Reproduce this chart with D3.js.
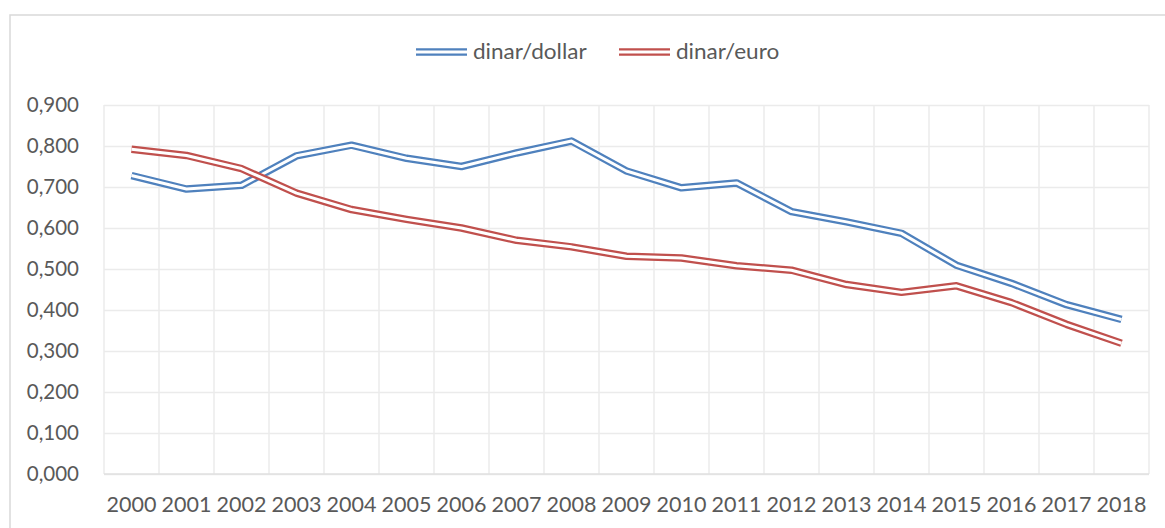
<!DOCTYPE html>
<html>
<head>
<meta charset="utf-8">
<script src="https://cdn.jsdelivr.net/npm/d3@7"></script>
<style>
  body { margin: 0; background: #fff; }
  svg text { font-family: Lato, "Open Sans", sans-serif; fill: #595959; }
</style>
</head>
<body>
<div id="chart"></div>
<script>
// values
var years = ["2000", "2001", "2002", "2003", "2004", "2005", "2006", "2007", "2008", "2009",
	"2010", "2011", "2012", "2013", "2014", "2015", "2016", "2017", "2018"];
var dinarDollar = [0.728, 0.695, 0.704, 0.776, 0.802, 0.770, 0.750, 0.783, 0.812, 0.739,
	0.698, 0.710, 0.640, 0.615, 0.587, 0.509, 0.465, 0.413, 0.377];
var dinarEuro = [0.792, 0.777, 0.745, 0.685, 0.645, 0.621, 0.600, 0.570, 0.554, 0.531,
	0.527, 0.508, 0.497, 0.462, 0.443, 0.459, 0.418, 0.365, 0.319];
var yTicks = [0, 0.1, 0.2, 0.3, 0.4, 0.5, 0.6, 0.7, 0.8, 0.9];

var series = [
	{ name: "dinar/dollar", values: dinarDollar, color: "#4F81BD" },
	{ name: "dinar/euro", values: dinarEuro, color: "#C0504D" }
];

var width = 1165, height = 528;
var m = { left: 104, right: 16, top: 105, bottom: 54 };
var fontSize = 20.5;

var svg = d3.select("#chart").append("svg")
	.attr("width", width)
	.attr("height", height);

// chart frame
svg.append("rect")
	.attr("x", 10).attr("y", 15)
	.attr("width", 1200).attr("height", 600)
	.attr("fill", "none")
	.attr("stroke", "#d9d9d9")
	.attr("stroke-width", 1.5);

var x = d3.scaleBand()
	.domain(years)
	.range([m.left, width - m.right]);

var y = d3.scaleLinear()
	.domain([0, 0.9])
	.range([height - m.bottom, m.top]);

var locale = d3.formatLocale({ decimal: ",", thousands: ".", grouping: [3], currency: ["", ""] });
var fmt = locale.format(".3f");

// horizontal gridlines
svg.append("g")
	.attr("transform", "translate(" + m.left + ",0)")
	.call(d3.axisLeft(y).tickValues(yTicks).tickSize(-(x.range()[1] - m.left)).tickFormat(""))
	.call(function(g) {
		g.select(".domain").remove();
		g.selectAll(".tick line").attr("stroke", "#ebebeb").attr("stroke-width", 1.5);
	});

// vertical gridlines at category borders
svg.append("g")
	.selectAll("line")
	.data(years.concat(["end"]))
	.enter().append("line")
	.attr("x1", function(d, i) { return m.left + i * x.step(); })
	.attr("x2", function(d, i) { return m.left + i * x.step(); })
	.attr("y1", y(0.9))
	.attr("y2", y(0))
	.attr("stroke", "#ebebeb")
	.attr("stroke-width", 1.5);

// baseline
svg.append("line")
	.attr("x1", m.left).attr("x2", x.range()[1])
	.attr("y1", y(0)).attr("y2", y(0))
	.attr("stroke", "#e0e0e0")
	.attr("stroke-width", 1.5);

// y axis labels
svg.append("g")
	.attr("transform", "translate(" + (m.left - 22) + ",0)")
	.call(d3.axisLeft(y).tickValues(yTicks).tickSize(0).tickFormat(fmt))
	.call(function(g) {
		g.select(".domain").remove();
		g.selectAll("text").attr("font-size", fontSize).attr("fill", "#595959").attr("font-family", "Lato");
	});

// x axis labels
svg.append("g")
	.attr("transform", "translate(0," + (y(0) + 20) + ")")
	.call(d3.axisBottom(x).tickSize(0))
	.call(function(g) {
		g.select(".domain").remove();
		g.selectAll("text").attr("font-size", fontSize).attr("fill", "#595959").attr("font-family", "Lato")
			.attr("transform", "scale(1.05,1)");
	});

var line = d3.line()
	.x(function(d, i) { return x(years[i]) + x.bandwidth() / 2; })
	.y(function(d) { return y(d); });

// double lines: wide coloured stroke with a white core
series.forEach(function(s) {
	var g = svg.append("g");
	g.append("path")
		.attr("d", line(s.values))
		.attr("fill", "none")
		.attr("stroke", s.color)
		.attr("stroke-width", 7.5)
		.attr("stroke-linejoin", "round");
	g.append("path")
		.attr("d", line(s.values))
		.attr("fill", "none")
		.attr("stroke", "#fff")
		.attr("stroke-width", 3)
		.attr("stroke-linejoin", "round");
});

// legend
var legendX = [416, 619];
var legend = svg.append("g").selectAll("g")
	.data(series)
	.enter().append("g")
	.attr("transform", function(d, i) { return "translate(" + legendX[i] + ",52)"; });

legend.append("line")
	.attr("x1", 0).attr("x2", 51)
	.attr("stroke", function(d) { return d.color; })
	.attr("stroke-width", 7.5);
legend.append("line")
	.attr("x1", 0).attr("x2", 51)
	.attr("stroke", "#fff")
	.attr("stroke-width", 3);
legend.append("text")
	.attr("transform", "translate(57,0) scale(1.1,1)")
	.attr("dy", "0.35em")
	.attr("font-size", fontSize)
	.text(function(d) { return d.name; });
</script>
</body>
</html>
